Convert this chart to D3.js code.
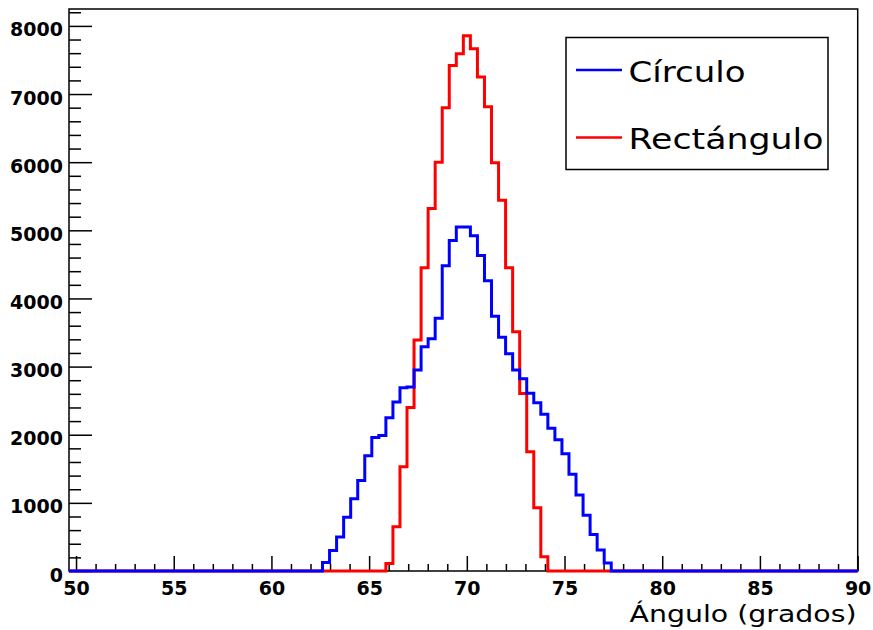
<!DOCTYPE html>
<html><head><meta charset="utf-8">
<script src="https://cdn.jsdelivr.net/npm/d3@7"></script>
<style>body{margin:0;background:#fff}</style>
</head><body>
<svg id="c" width="873" height="630"></svg>
<script>
// ---- data ----
const binLow = 49.64, binWidth = 0.3604, nBins = 112;
const seriesNames = ["Círculo", "Rectángulo"];
const seriesColors = ["#0000ff", "#ff0000"];
const circuloFirstBin = 36;
const circuloCounts = [125,300,500,790,1060,1330,1690,1960,1990,2250,2480,2690,2700,2950,3290,3410,3710,4480,4850,5050,5050,4920,4630,4260,3740,3430,3190,2950,2820,2610,2470,2300,2095,1925,1720,1420,1115,820,535,310,118];
const rectFirstBin = 45;
const rectCounts = [110,650,1530,2400,3390,4450,5320,6000,6800,7420,7590,7855,7665,7250,6815,5990,5440,4450,3510,2605,1750,930,210];
const xMajorTicks = [50,55,60,65,70,75,80,85,90];
const xMinorTicks = [51,52,53,54,56,57,58,59,61,62,63,64,66,67,68,69,71,72,73,74,76,77,78,79,81,82,83,84,86,87,88,89];
const yMajorTicks = [0,1000,2000,3000,4000,5000,6000,7000,8000];
const yMinorTicks = [200,400,600,800,1200,1400,1600,1800,2200,2400,2600,2800,3200,3400,3600,3800,4200,4400,4600,4800,5200,5400,5600,5800,6200,6400,6600,6800,7200,7400,7600,7800,8200];
const yMax = 8248;
const xTitle = "Ángulo (grados)";

// ---- layout ----
const svg = d3.select("#c");
const L = 69, R = 857.7, T = 9, B = 571;
const x = d3.scaleLinear().domain([binLow, binLow + nBins * binWidth]).range([L, R]);
const y = d3.scaleLinear().domain([0, yMax]).range([B, T]);

function fullCounts(first, arr) {
  const out = [];
  for (let i = 0; i < nBins; i++) out.push(i >= first && i < first + arr.length ? arr[i - first] : 0);
  return out;
}
function stepPoints(counts) {
  const pts = [];
  counts.forEach((c, i) => {
    const x0 = binLow + i * binWidth;
    pts.push([x0, c], [x0 + binWidth, c]);
  });
  return pts;
}

// frame
svg.append("rect").attr("x", L).attr("y", T).attr("width", R - L).attr("height", B - T)
  .attr("fill", "none").attr("stroke", "#000").attr("stroke-width", 1.5);

// axes
const font = "DejaVu Sans";
function styleAxis(g) {
  g.select(".domain").remove();
  g.selectAll(".tick line").attr("stroke", "#000").attr("stroke-width", 1.5);
  g.selectAll("text").attr("font-family", font).attr("font-weight", "bold").attr("font-size", 19).attr("fill", "#000");
}
svg.append("g").attr("transform", `translate(0,${B})`)
  .call(d3.axisBottom(x).tickValues(xMinorTicks).tickSize(-7).tickFormat(""))
  .call(styleAxis);
svg.append("g").attr("transform", `translate(0,${B})`)
  .call(d3.axisBottom(x).tickValues(xMajorTicks).tickSize(-15).tickPadding(11).tickFormat(d3.format("d")))
  .call(styleAxis);
svg.append("g").attr("transform", `translate(${L},0)`)
  .call(d3.axisLeft(y).tickValues(yMinorTicks).tickSize(-12).tickFormat(""))
  .call(styleAxis);
const yAx = svg.append("g").attr("transform", `translate(${L},0)`)
  .call(d3.axisLeft(y).tickValues(yMajorTicks).tickSize(-23).tickPadding(6).tickFormat(d3.format("d")))
  .call(styleAxis);
yAx.selectAll("text").attr("transform", "translate(0,4)");

// histograms (red first, blue on top)
const line = d3.line().x(d => x(d[0])).y(d => y(d[1]));
const hists = [fullCounts(rectFirstBin, rectCounts), fullCounts(circuloFirstBin, circuloCounts)];
const histColors = [seriesColors[1], seriesColors[0]];
hists.forEach((h, k) => {
  svg.append("path").attr("d", line(stepPoints(h))).attr("fill", "none")
    .attr("stroke", histColors[k]).attr("stroke-width", 3).attr("stroke-linejoin", "miter");
});

// x title
svg.append("text").attr("x", 629.5).attr("y", 622).text(xTitle)
  .attr("font-family", font).attr("font-size", 23).attr("fill", "#000")
  .attr("textLength", 227).attr("lengthAdjust", "spacingAndGlyphs");

// legend
const lg = svg.append("g");
lg.append("rect").attr("x", 566).attr("y", 37.5).attr("width", 262).attr("height", 132)
  .attr("fill", "#fff").attr("stroke", "#000").attr("stroke-width", 1.5);
const legendRows = [70, 137.5];
const legendTextLen = [117, 195];
seriesNames.forEach((name, i) => {
  lg.append("line").attr("x1", 576).attr("x2", 622).attr("y1", legendRows[i]).attr("y2", legendRows[i])
    .attr("stroke", seriesColors[i]).attr("stroke-width", 2.5);
  lg.append("text").attr("x", 628.5).attr("y", legendRows[i] + 11.5).text(name)
    .attr("font-family", font).attr("font-size", 27.5).attr("fill", "#000")
    .attr("textLength", legendTextLen[i]).attr("lengthAdjust", "spacingAndGlyphs");
});
</script>
</body></html>
